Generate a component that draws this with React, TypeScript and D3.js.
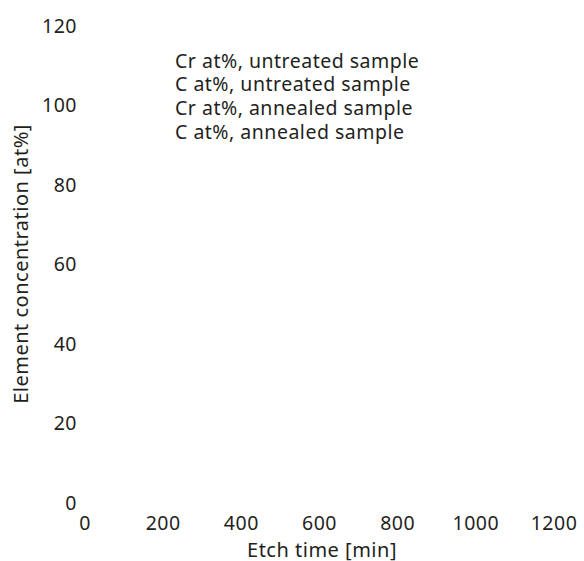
import { useEffect, useRef } from 'react'
import * as d3 from 'd3'

const width = 584
const height = 561

// x axis: etch time in minutes
const xTicks = [0, 200, 400, 600, 800, 1000, 1200]
// y axis: element concentration in at%
const yTicks = [0, 20, 40, 60, 80, 100, 120]

// legend entries (the reference shows no plotted marks for them)
const seriesNames = [
  'Cr at%, untreated sample',
  'C at%, untreated sample',
  'Cr at%, annealed sample',
  'C at%, annealed sample',
]

const textColor = '#231f20'
const font = '"Noto Sans", "Open Sans", sans-serif'

export default function App() {
  const svgRef = useRef<SVGSVGElement>(null)

  useEffect(() => {
    if (!svgRef.current) return
    const svg = d3.select(svgRef.current)
    svg.selectAll('*').remove()

    const xScale = d3.scaleLinear().domain([0, 1200]).range([85, 554])
    const yScale = d3.scaleLinear().domain([0, 120]).range([502, 25])

    const g = svg
      .append('g')
      .attr('font-family', font)
      .attr('fill', textColor)
      .attr('letter-spacing', '0.5px')

    // Y tick labels
    g.selectAll('.y-tick')
      .data(yTicks)
      .enter()
      .append('text')
      .attr('class', 'y-tick')
      .attr('x', 77)
      .attr('y', (d) => yScale(d))
      .attr('text-anchor', 'end')
      .attr('dominant-baseline', 'central')
      .attr('font-size', '19.5px')
      .text((d) => d)

    // X tick labels
    g.selectAll('.x-tick')
      .data(xTicks)
      .enter()
      .append('text')
      .attr('class', 'x-tick')
      .attr('x', (d) => xScale(d))
      .attr('y', 522)
      .attr('text-anchor', 'middle')
      .attr('dominant-baseline', 'central')
      .attr('font-size', '19.5px')
      .text((d) => d)

    // Axis titles
    g.append('text')
      .attr('x', 322)
      .attr('y', 549)
      .attr('text-anchor', 'middle')
      .attr('dominant-baseline', 'central')
      .attr('font-size', '20px')
      .text('Etch time [min]')

    g.append('text')
      .attr('transform', 'translate(20,264) rotate(-90)')
      .attr('text-anchor', 'middle')
      .attr('dominant-baseline', 'central')
      .attr('font-size', '20px')
      .text('Element concentration [at%]')

    // Legend
    g.selectAll('.legend-label')
      .data(seriesNames)
      .enter()
      .append('text')
      .attr('class', 'legend-label')
      .attr('x', 175)
      .attr('y', (_, i) => 60 + i * 23.8)
      .attr('dominant-baseline', 'central')
      .attr('font-size', '19.5px')
      .text((d) => d)
  }, [])

  return (
    <svg
      ref={svgRef}
      width={width}
      height={height}
      style={{ position: 'absolute', left: 0, top: 0, background: '#fff' }}
    />
  )
}
